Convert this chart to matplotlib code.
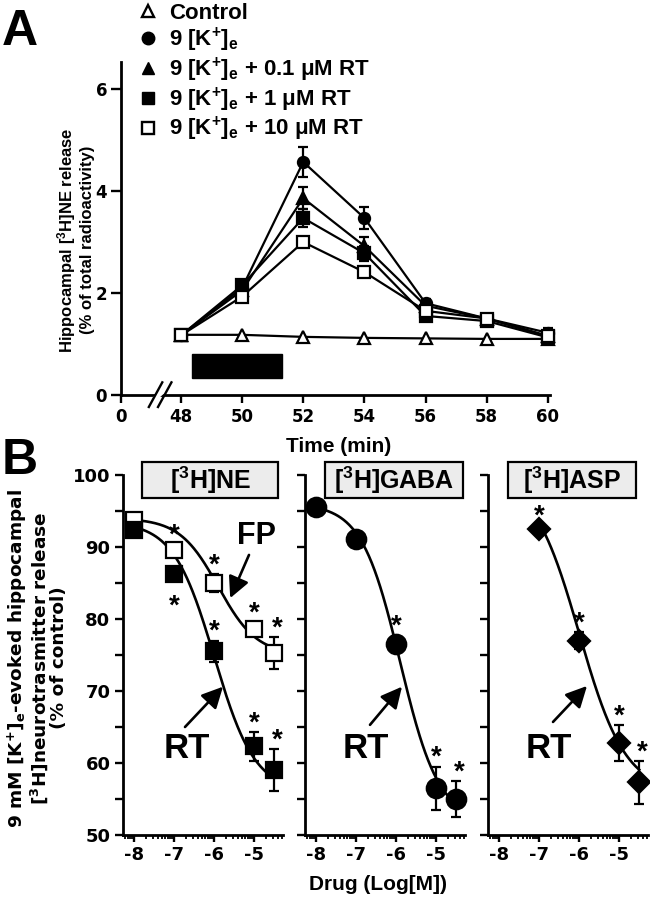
import numpy as np
import matplotlib
matplotlib.use('Agg')
import matplotlib.pyplot as plt
from matplotlib.lines import Line2D
from matplotlib.patches import Rectangle

plt.rcParams['font.family'] = ['Liberation Sans', 'DejaVu Sans']
plt.rcParams['font.weight'] = 'bold'
plt.rcParams['axes.labelweight'] = 'bold'
plt.rcParams['mathtext.fontset'] = 'custom'
plt.rcParams['mathtext.rm'] = 'Liberation Sans:bold'
plt.rcParams['mathtext.bf'] = 'Liberation Sans:bold'
plt.rcParams['mathtext.default'] = 'bf'
plt.rcParams['axes.unicode_minus'] = False

# ---- panel A: [3H]NE release time course ----
time = [48, 50, 52, 54, 56, 58, 60]
control = [1.18, 1.18, 1.14, 1.12, 1.11, 1.10, 1.10]
k9 = [1.17, 2.10, 4.57, 3.47, 1.80, 1.50, 1.22]
k9_err = [0.04, 0.05, 0.30, 0.22, 0.08, 0.05, 0.10]
rt01 = [1.17, 2.05, 3.86, 2.92, 1.75, 1.50, 1.16]
rt01_err = [0.04, 0.05, 0.22, 0.18, 0.08, 0.05, 0.06]
rt1 = [1.17, 2.15, 3.47, 2.78, 1.55, 1.45, 1.13]
rt1_err = [0.04, 0.05, 0.18, 0.15, 0.06, 0.05, 0.05]
rt10 = [1.17, 1.93, 3.00, 2.41, 1.65, 1.50, 1.15]
rt10_err = [0.04, 0.05, 0.10, 0.10, 0.06, 0.05, 0.05]
stim_start, stim_end = 48.36, 51.3   # 9 mM K+ pulse (black bar)
stim_low, stim_high = 0.33, 0.80

# ---- panel B: concentration-response ----
log_conc = [-8, -7, -6, -5, -4.5]
ne_rt = [92.3, 86.3, 75.5, 62.3, 59.0]
ne_rt_err = [0.5, 0.6, 1.5, 2.0, 2.9]
ne_rt_star = [False, True, True, True, True]
ne_fp = [93.8, 89.6, 85.0, 78.6, 75.3]
ne_fp_err = [0.5, 0.8, 1.2, 1.0, 2.2]
ne_fp_star = [False, True, True, True, True]
gaba_rt = [95.5, 91.1, 76.5, 56.5, 55.0]
gaba_rt_err = [0.5, 0.6, 1.2, 3.0, 2.5]
gaba_rt_star = [False, False, True, True, True]
asp_conc = [-7, -6, -5, -4.5]
asp_rt = [92.5, 77.0, 62.8, 57.3]
asp_rt_err = [0.5, 1.2, 2.5, 3.0]
asp_rt_star = [True, True, True, True]

# sigmoid fits: top, bottom, logEC50, hill
ne_rt_fit = (93.5, 56.0, -6.0, 0.85)
ne_fp_fit = (94.0, 75.0, -5.9, 0.9)
gaba_rt_fit = (96.0, 52.0, -5.9, 0.9)
asp_rt_fit = (100.0, 56.0, -6.0, 0.75)


def logistic(x, p):
    top, bottom, ec, h = p
    return bottom + (top - bottom) / (1 + 10 ** ((x - ec) * h))


W, H = 650, 899
fig = plt.figure(figsize=(W / 100, H / 100), dpi=100)


def px_box(l, t, r, b):
    return [l / W, 1 - b / H, (r - l) / W, (b - t) / H]


def fy(py):
    return 1 - py / H


def style_axes(ax, size):
    for s in ['top', 'right']:
        ax.spines[s].set_visible(False)
    for s in ['left', 'bottom']:
        ax.spines[s].set_linewidth(2.0)
    ax.tick_params(which='major', width=1.7, labelsize=size, pad=3,
                   labelfontfamily='DejaVu Sans')


# ------------------------- A -------------------------
axA = fig.add_axes(px_box(121, 62, 550, 395))
style_axes(axA, 12)
axA.tick_params(axis='y', length=7)
axA.tick_params(axis='x', length=6)
axA.set_xlim(46.04, 60.07)
axA.set_ylim(0, 6.53)
axA.set_xticks([46.04, 48, 50, 52, 54, 56, 58, 60])
axA.set_xticklabels(['0', '48', '50', '52', '54', '56', '58', '60'])
axA.set_yticks([0, 2, 4, 6])

ekw = dict(color='k', lw=1.6, capsize=3.5, elinewidth=1.6, capthick=1.6,
           mec='k', mew=1.6, clip_on=False)
axA.errorbar(time, k9, yerr=k9_err, marker='o', ms=8, mfc='k', zorder=3, **ekw)
axA.errorbar(time, rt01, yerr=rt01_err, marker='^', ms=8, mfc='k', zorder=3, **ekw)
axA.errorbar(time, rt1, yerr=rt1_err, marker='s', ms=8, mfc='k', zorder=3, **ekw)
axA.errorbar(time, rt10, yerr=rt10_err, marker='s', ms=8, mfc='white', zorder=4, **ekw)
axA.plot(time, control, marker='^', ms=8, mfc='white', mec='k', mew=1.6,
         color='k', lw=1.6, clip_on=False, zorder=2)
axA.add_patch(Rectangle((stim_start, stim_low), stim_end - stim_start,
                        stim_high - stim_low, color='k'))

# axis break
xt = axA.get_xaxis_transform()
axA.plot([47.13, 47.42], [-0.012, 0.012], color='white', lw=3.5,
         transform=xt, clip_on=False, zorder=5, solid_capstyle='butt')
for x0 in (46.95, 47.25):
    axA.plot([x0, x0 + 0.44], [-0.036, 0.038], color='k', lw=1.7,
             transform=xt, clip_on=False, zorder=6)

fig.text(339 / W, fy(446), 'Time (min)', fontsize=15, ha='center', va='center')
fig.text(75 / W, fy(240),
         'Hippocampal [$^{3}$H]NE release\n(% of total radioactivity)',
         rotation=90, ha='center', va='center', fontsize=12,
         multialignment='center', linespacing=1.15)

handles = [
    Line2D([], [], ls='none', marker='^', ms=9, mfc='white', mec='k', mew=1.7),
    Line2D([], [], ls='none', marker='o', ms=9, mfc='k', mec='k'),
    Line2D([], [], ls='none', marker='^', ms=9, mfc='k', mec='k'),
    Line2D([], [], ls='none', marker='s', ms=9, mfc='k', mec='k'),
    Line2D([], [], ls='none', marker='s', ms=9, mfc='white', mec='k', mew=1.7),
]
labels = ['Control',
          '9 [K$^{+}$]$_{e}$',
          '9 [K$^{+}$]$_{e}$ + 0.1 μM RT',
          '9 [K$^{+}$]$_{e}$ + 1 μM RT',
          '9 [K$^{+}$]$_{e}$ + 10 μM RT']
fig.legend(handles, labels, loc='upper left', bbox_to_anchor=(138 / W, fy(3)),
           frameon=False, fontsize=16, handlelength=0.9, handletextpad=0.5,
           labelspacing=0.07, borderpad=0, borderaxespad=0)

fig.text(2 / W, fy(45), 'A', fontsize=36, va='baseline', ha='left')
fig.text(2 / W, fy(474), 'B', fontsize=36, va='baseline', ha='left')

# ------------------------- B -------------------------
minor_x = [np.log10(k) + n for n in range(-9, -4) for k in range(2, 10)]
minor_x = [v for v in minor_x if -8.28 < v < -4.28]

panels = [
    (123, '[$^{3}$H]NE', (0.119, 0.969)),
    (305, '[$^{3}$H]GABA', (0.125, 0.9875)),
    (488, '[$^{3}$H]ASP', (0.125, 0.925)),
]
axes_b = []
for i, (left, title, (bx0, bx1)) in enumerate(panels):
    ax = fig.add_axes(px_box(left, 475, left + 160, 835))
    style_axes(ax, 13)
    ax.set_xlim(-8.28, -4.28)
    ax.set_ylim(50, 100)
    ax.set_xticks([-8, -7, -6, -5])
    ax.set_xticks(minor_x, minor=True)
    ax.set_yticks([50, 60, 70, 80, 90, 100])
    ax.set_yticks([55, 65, 75, 85, 95], minor=True)
    ax.tick_params(axis='y', which='both', length=6, width=1.7)
    ax.tick_params(axis='x', which='major', length=5)
    ax.tick_params(axis='x', which='minor', length=3, width=1.3)
    if i > 0:
        ax.set_yticklabels([])
    ax.add_patch(Rectangle((bx0, 0.936), bx1 - bx0, 0.1, transform=ax.transAxes,
                           facecolor='#ececec', edgecolor='k', lw=1.6,
                           clip_on=False, zorder=5))
    ax.text((bx0 + bx1) / 2, 0.986, title, transform=ax.transAxes, ha='center',
            va='center', fontsize=18, zorder=6)
    axes_b.append(ax)

bkw = dict(color='k', ls='none', capsize=3.5, elinewidth=1.6, capthick=1.6,
           mec='k', mew=1.6, clip_on=False, zorder=4)


def series(ax, xs, ys, errs, stars, fit, marker, ms, mfc, star_below=()):
    xc = np.linspace(xs[0], xs[-1], 200)
    ax.plot(xc, logistic(xc, fit), color='k', lw=1.9, zorder=2)
    ax.errorbar(xs, ys, yerr=errs, marker=marker, ms=ms, mfc=mfc, **bkw)
    for x, y, e, s in zip(xs, ys, errs, stars):
        if not s:
            continue
        if x in star_below:
            ax.text(x, y - 4.6, '*', ha='center', va='center', fontsize=20)
        else:
            ax.text(x + (0.07 if x == -4.5 else 0), y + e + 1.2, '*',
                    ha='center', va='center', fontsize=20)


series(axes_b[0], log_conc, ne_fp, ne_fp_err, ne_fp_star, ne_fp_fit, 's', 12, 'white')
series(axes_b[0], log_conc, ne_rt, ne_rt_err, ne_rt_star, ne_rt_fit, 's', 12, 'k',
       star_below=(-7,))
series(axes_b[1], log_conc, gaba_rt, gaba_rt_err, gaba_rt_star, gaba_rt_fit, 'o', 14, 'k')
series(axes_b[2], asp_conc, asp_rt, asp_rt_err, asp_rt_star, asp_rt_fit, 'D', 11.5, 'k')

akw = dict(arrowstyle='-|>', lw=1.9, color='k', mutation_scale=32,
           shrinkA=0, shrinkB=0)
a0 = axes_b[0]
a0.annotate('', xy=(-5.6, 82.9), xytext=(-5.13, 88.9), arrowprops=akw)
a0.text(-4.95, 91.5, 'FP', fontsize=22, ha='center', va='center')
for ax, tip, start, tx in [(axes_b[0], (-5.78, 70.6), (-6.73, 65.0), -6.68),
                           (axes_b[1], (-5.855, 70.6), (-6.655, 65.3), -6.76),
                           (axes_b[2], (-5.805, 70.7), (-6.655, 65.7), -6.76)]:
    ax.annotate('', xy=tip, xytext=start, arrowprops=akw)
    ax.text(tx, 62.0, 'RT', fontsize=25, ha='center', va='center')

fig.text(378 / W, fy(885), 'Drug (Log[M])', fontsize=15, ha='center', va='center')
fig.text(37 / W, fy(658),
         '9 mM [K$^{+}$]$_{e}$-evoked hippocampal\n[$^{3}$H]neurotrasmitter release\n(% of control)',
         rotation=90, ha='center', va='center', fontsize=13.3,
         family='DejaVu Sans', math_fontfamily='dejavusans',
         multialignment='center', linespacing=1.0)

fig.savefig('out.png', dpi=100)
